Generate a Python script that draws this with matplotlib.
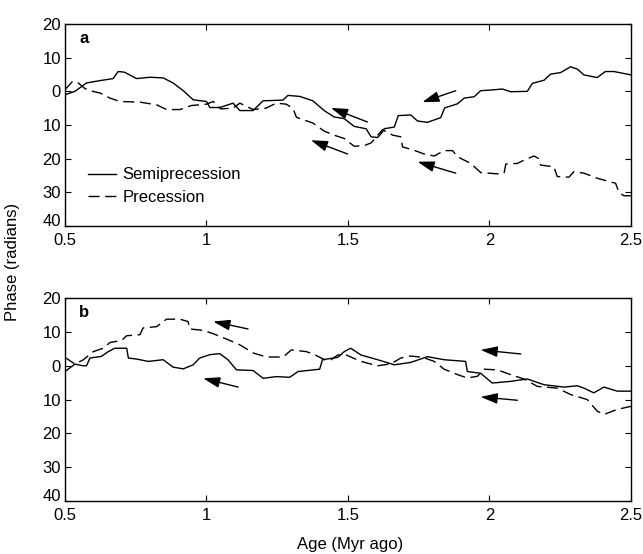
import matplotlib
matplotlib.use("Agg")
from matplotlib import pyplot as plt

plt.rcParams['font.family'] = ['Liberation Sans', 'DejaVu Sans']
plt.rcParams['font.size'] = 12

# panel a: semiprecession (solid)
a_semi_age = [0.5, 0.535, 0.576, 0.624, 0.67, 0.688, 0.71, 0.753, 0.80, 0.847, 0.882, 0.918,
              0.953, 1.0, 1.012, 1.047, 1.094, 1.118, 1.165, 1.20, 1.27, 1.288, 1.33, 1.376,
              1.416, 1.451, 1.487, 1.522, 1.564, 1.582, 1.605, 1.622, 1.628, 1.664, 1.678,
              1.722, 1.746, 1.781, 1.828, 1.842, 1.887, 1.911, 1.946, 1.969, 2.005, 2.046,
              2.075, 2.134, 2.152, 2.193, 2.216, 2.252, 2.287, 2.311, 2.334, 2.381, 2.41,
              2.44, 2.5]
a_semi_phase = [-1.0, 0.0, 2.5, 3.2, 3.8, 5.9, 5.7, 3.8, 4.2, 4.0, 2.5, 0.2,
                -2.5, -3.0, -4.8, -4.8, -3.5, -5.7, -5.7, -2.8, -2.6, -1.2, -1.5, -2.8,
                -5.7, -7.6, -8.1, -10.4, -11.1, -13.5, -13.7, -12.1, -11.1, -10.6, -7.2,
                -7.0, -8.8, -9.2, -7.8, -4.9, -3.7, -2.0, -1.6, 0.2, 0.4, 0.7,
                -0.1, 0.0, 2.4, 3.3, 5.1, 5.6, 7.3, 6.6, 4.9, 4.1, 5.9,
                5.9, 4.9]

# panel a: precession (dashed)
a_prec_age = [0.5, 0.527, 0.547, 0.571, 0.588, 0.624, 0.659, 0.694, 0.765, 0.824, 0.859,
              0.906, 0.947, 1.0, 1.024, 1.05, 1.094, 1.118, 1.165, 1.21, 1.247, 1.282,
              1.306, 1.318, 1.376, 1.416, 1.451, 1.487, 1.522, 1.558, 1.582, 1.622, 1.658,
              1.687, 1.693, 1.734, 1.769, 1.805, 1.84, 1.87, 1.887, 1.934, 1.969, 2.028,
              2.052, 2.058, 2.099, 2.128, 2.158, 2.173, 2.181, 2.228, 2.24, 2.281, 2.299,
              2.334, 2.381, 2.446, 2.458, 2.475, 2.5]
a_prec_phase = [0.5, 3.0, 2.5, 0.8, 0.2, -0.5, -2.0, -3.0, -3.2, -4.0, -5.4,
                -5.4, -4.2, -3.8, -3.0, -5.2, -5.0, -3.5, -5.4, -5.0, -3.5, -3.8,
                -5.1, -7.7, -9.4, -11.8, -13.0, -14.0, -16.3, -16.1, -15.3, -11.4, -13.0,
                -13.5, -16.5, -17.5, -18.6, -19.2, -17.6, -17.6, -19.4, -21.4, -24.1, -24.5,
                -24.3, -21.6, -21.4, -20.2, -19.2, -19.9, -21.9, -22.4, -25.3, -25.5, -23.8,
                -24.3, -25.8, -27.3, -30.0, -31.0, -31.0]

# panel b: semiprecession (solid)
b_semi_age = [0.5, 0.535, 0.565, 0.576, 0.588, 0.629, 0.653, 0.676, 0.718, 0.724, 0.753,
              0.794, 0.847, 0.882, 0.918, 0.953, 0.976, 1.012, 1.047, 1.076, 1.106, 1.165,
              1.2, 1.247, 1.294, 1.324, 1.4, 1.41, 1.464, 1.487, 1.51, 1.546, 1.605,
              1.664, 1.722, 1.781, 1.84, 1.916, 1.922, 1.969, 2.01, 2.075, 2.134, 2.193,
              2.264, 2.311, 2.334, 2.369, 2.405, 2.452, 2.5]
b_semi_phase = [-1.7, 0.5, 0.0, 0.0, 2.3, 2.8, 4.2, 5.2, 5.2, 2.3, 2.0,
                1.3, 1.8, -0.4, -0.9, 0.3, 2.3, 3.3, 3.6, 1.8, -1.2, -1.4,
                -3.7, -3.2, -3.4, -1.7, -1.0, 1.8, 2.5, 4.2, 5.2, 3.2, 1.8,
                0.3, 1.0, 2.7, 1.8, 1.3, -1.7, -2.2, -5.1, -4.6, -3.9, -5.6,
                -6.3, -5.9, -6.6, -8.0, -6.3, -7.5, -7.5]

# panel b: precession (dashed)
b_prec_age = [0.5, 0.535, 0.565, 0.6, 0.635, 0.659, 0.7, 0.718, 0.765, 0.776, 0.824,
              0.859, 0.906, 0.935, 0.941, 0.988, 1.024, 1.071, 1.118, 1.165, 1.212,
              1.271, 1.3, 1.353, 1.382, 1.418, 1.44, 1.464, 1.494, 1.546, 1.605, 1.652,
              1.687, 1.722, 1.764, 1.805, 1.84, 1.887, 1.922, 1.958, 1.98, 2.028, 2.075,
              2.122, 2.17, 2.24, 2.287, 2.346, 2.381, 2.405, 2.452, 2.5]
b_prec_phase = [2.5, 0.5, 1.8, 4.2, 5.2, 6.9, 7.5, 8.9, 9.2, 11.2, 11.6,
                13.8, 13.8, 13.1, 10.9, 10.5, 9.5, 7.9, 6.2, 3.8, 2.6,
                2.6, 4.7, 4.2, 3.3, 1.8, 1.8, 3.2, 3.2, 1.3, 0.0, 0.6,
                2.3, 2.9, 2.5, 1.3, -1.0, -2.6, -3.6, -3.1, -1.0, -1.2, -2.6,
                -3.9, -6.1, -6.6, -8.5, -10.0, -13.4, -14.4, -12.9, -12.0]

# arrows: (tail age, tail phase, head age, head phase)
a_arrows = [(1.881, 0.2, 1.763, -3.2), (1.569, -9.1, 1.44, -4.9),
            (1.499, -18.6, 1.369, -14.5), (1.881, -24.3, 1.746, -20.9)]
b_arrows = [(1.147, 10.9, 1.024, 13.1), (1.112, -6.3, 0.988, -3.7),
            (2.111, 3.5, 1.969, 4.7), (2.099, -10.2, 1.969, -9.2)]

xticks = [0.5, 1, 1.5, 2, 2.5]
xtick_labels = ['0.5', '1', '1.5', '2', '2.5']
yticks = [-40, -30, -20, -10, 0, 10, 20]
ytick_labels = ['40', '30', '20', '10', '0', '10', '20']

fig = plt.figure(figsize=(6.43, 5.54), dpi=100)
ax_a = fig.add_axes([0.1011, 0.592, 0.880, 0.3646])
ax_b = fig.add_axes([0.1011, 0.0957, 0.880, 0.366])

dash = (8, 4)

def style(ax, label):
    ax.set_xlim(0.5, 2.5)
    ax.set_ylim(-40, 20)
    ax.set_xticks(xticks, xtick_labels)
    ax.set_yticks(yticks, ytick_labels)
    ax.tick_params(direction='in', top=True, right=True, length=4, width=0.8,
                   labelsize=12, pad=3)
    ax.tick_params(axis='x', pad=5)
    # lowest y label sits on the axis line, like the original
    ax.get_yticklabels()[0].set_verticalalignment('baseline')
    for s in ax.spines.values():
        s.set_linewidth(1.0)
    ax.text(0.025, 0.93, label, transform=ax.transAxes, fontsize=12,
            fontweight='bold', va='center', ha='left')

def arrows(ax, lst):
    for x0, y0, x1, y1 in lst:
        ax.annotate('', xy=(x1, y1), xytext=(x0, y0),
                    arrowprops=dict(arrowstyle='-|>,head_length=0.85,head_width=0.27',
                                    color='black', lw=1.0, shrinkA=0, shrinkB=0))

ax_a.plot(a_semi_age, a_semi_phase, color='black', lw=1.0, label='Semiprecession')
ax_a.plot(a_prec_age, a_prec_phase, color='black', lw=1.0, dashes=dash, label='Precession')
style(ax_a, 'a')
arrows(ax_a, a_arrows)
ax_a.legend(loc='upper left', bbox_to_anchor=(0.04, 0.29), frameon=False,
            handlelength=1.7, handletextpad=0.4, labelspacing=0.45,
            borderpad=0, borderaxespad=0, fontsize=12)

ax_b.plot(b_semi_age, b_semi_phase, color='black', lw=1.0)
ax_b.plot(b_prec_age, b_prec_phase, color='black', lw=1.0, dashes=dash)
style(ax_b, 'b')
arrows(ax_b, b_arrows)

fig.text(0.02, 0.527, 'Phase (radians)', rotation=90, va='center', ha='center', fontsize=12)
fig.text(0.544, 0.017, 'Age (Myr ago)', ha='center', va='center', fontsize=12)

fig.savefig('out.png', dpi=100)
